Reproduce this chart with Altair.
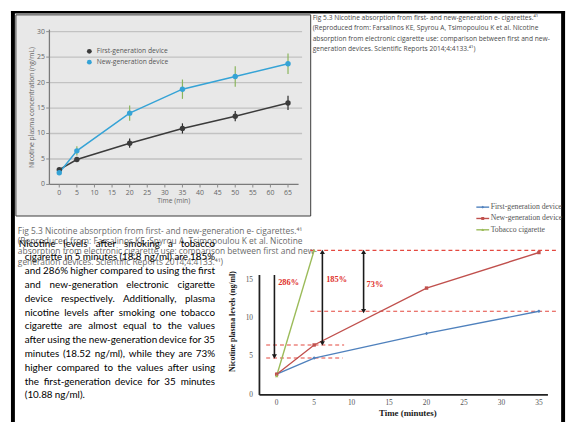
import altair as alt
import pandas as pd

# ---------------- data ----------------
top_series = ["First-generation device", "New-generation device"]
top_time = [0, 5, 20, 35, 50, 65]
top_first = [2.9, 4.9, 8.1, 11.0, 13.4, 16.0]
top_first_err = [0.3, 0.4, 0.9, 1.0, 1.0, 1.4]
top_new = [2.3, 6.6, 14.0, 18.7, 21.2, 23.7]
top_new_err = [0.4, 0.9, 1.5, 1.9, 2.0, 2.0]
top_x_ticks = [0, 5, 10, 15, 20, 25, 30, 35, 40, 45, 50, 55, 60, 65]
top_y_ticks = [0, 5, 10, 15, 20, 25, 30]

bot_series = ["First-generation device", "New-generation device", "Tobacco cigarette"]
bot_time = [0, 5, 20, 35]
bot_first = [2.7, 4.8, 8.0, 10.88]
bot_new = [2.7, 6.5, 13.9, 18.52]
tob_time = [0, 5]
tob_vals = [2.5, 18.8]
bot_x_ticks = [0, 5, 10, 15, 20, 25, 30, 35]
bot_y_ticks = [0, 5, 10, 15]

ref_level = [18.8, 10.88, 6.5, 4.8]
ref_start = [4.5, 4.5, -1.4, -1.4]
ref_end = [37.5, 37.5, 9.0, 8.8]

arrow_x = [-0.3, 6.1, 11.6]
arrow_top = [15.6, 18.6, 18.6]
arrow_bottom = [5.0, 6.7, 10.9]
arrow_two_heads = [False, True, True]

pct_text = ["286%", "185%", "73%"]
pct_x = [0.2, 6.6, 12.0]
pct_y = [14.7, 15.1, 14.4]

caption_lines = [
    "Fig 5.3 Nicotine absorption from first- and new-generation e- cigarettes.\u2074\u00b9",
    "(Reproduced from: Farsalinos KE, Spyrou A, Tsimopoulou K et al. Nicotine",
    "absorption from electronic cigarette use: comparison between first and new-",
    "generation devices. Scientific Reports 2014;4:4133.\u2074\u00b9)",
]

para_lines = [
    "Nicotine levels after smoking a tobacco",
    "cigarette in 5 minutes (18.8 ng/ml) are 185%",
    "and 286% higher compared to using the first",
    "and new-generation electronic cigarette",
    "device respectively. Additionally, plasma",
    "nicotine levels after smoking one tobacco",
    "cigarette are almost equal to the values",
    "after using the new-generation device for 35",
    "minutes (18.52 ng/ml), while they are 73%",
    "higher compared to the values after using",
    "the first-generation device for 35 minutes",
    "(10.88 ng/ml).",
]

# ---------------- layout helpers ----------------
OX, OY = 8, 8
W, H = 570, 417


def px(x):
    return x - OX


def py(y):
    return max(y - OY, 0)


one = pd.DataFrame({"k": [0]})
ident_x = alt.Scale(domain=[0, W], range=[0, W])


def rect(x0, x1, y0, y1, **kw):
    return alt.Chart(one).mark_rect(**kw).encode(
        x=alt.value(px(x0)), x2=alt.value(px(x1)),
        y=alt.value(py(y0)), y2=alt.value(py(y1)))


# ---------------- decorations ----------------
decor = alt.layer(
    rect(16, 315, 12, 216, fill="#e8e8e8", stroke="#3a3a3a", strokeWidth=1),
    rect(11, 573, 8, 10.5, color="#000000"),
    rect(11, 15, 8, 425, color="#000000"),
    rect(569, 573, 8, 425, color="#000000"),
)

# ---------------- top chart ----------------
n = len(top_time)
top_df = pd.DataFrame({
    "time": top_time + top_time,
    "value": top_first + top_new,
    "err": top_first_err + top_new_err,
    "series": [top_series[0]] * n + [top_series[1]] * n,
})
top_df["lo"] = top_df["value"] - top_df["err"]
top_df["hi"] = top_df["value"] + top_df["err"]

tx = alt.Scale(domain=[0, 65], range=[px(60), px(292)], nice=False, zero=False)
ty = alt.Scale(domain=[0, 30], range=[py(184), py(29)], nice=False, zero=False)
top_color = alt.Scale(domain=top_series, range=["#3b3b3b", "#35a3d6"])
err_color = alt.Scale(domain=top_series, range=["#2b2b2b", "#8ab55c"])
top_font = "Open Sans"
axis_grey = "#8a8a8a"
label_grey = "#666666"

top_grid = alt.Chart(pd.DataFrame({"g": top_y_ticks[1:]})).mark_rule(
    color="#c2c2c2", strokeWidth=1.3).encode(
    y=alt.Y("g:Q", scale=ty, axis=None),
    x=alt.XDatum(-2.8, scale=tx, axis=None), x2=alt.X2Datum(69))
top_xline = alt.Chart(one).mark_rule(color="#7a7a7a", strokeWidth=1.3).encode(
    x=alt.XDatum(-2.8, scale=tx, axis=None), x2=alt.X2Datum(68),
    y=alt.YDatum(0, scale=ty, axis=None))
top_yline = alt.Chart(one).mark_rule(color="#7a7a7a", strokeWidth=1.3).encode(
    x=alt.XDatum(-2.8, scale=tx, axis=None),
    y=alt.YDatum(0, scale=ty, axis=None), y2=alt.Y2Datum(30.4))

txt_df = pd.DataFrame({"v": top_x_ticks})
tyt_df = pd.DataFrame({"v": top_y_ticks})
top_xticks = alt.Chart(txt_df).mark_rule(color=axis_grey, strokeWidth=1).encode(
    x=alt.X("v:Q", scale=tx, axis=None),
    y=alt.YDatum(0, scale=ty, axis=None), y2=alt.Y2Datum(-0.6))
top_xlabels = alt.Chart(txt_df).mark_text(
    font=top_font, fontSize=7, color=label_grey, baseline="middle", dy=9).encode(
    x=alt.X("v:Q", scale=tx, axis=None),
    y=alt.YDatum(0, scale=ty, axis=None), text="v:Q")
top_yticks = alt.Chart(tyt_df).mark_rule(color=axis_grey, strokeWidth=1).encode(
    x=alt.XDatum(-2.8, scale=tx, axis=None), x2=alt.X2Datum(-3.7),
    y=alt.Y("v:Q", scale=ty, axis=None))
top_ylabels = alt.Chart(tyt_df).mark_text(
    font=top_font, fontSize=7, color=label_grey, baseline="middle",
    align="right", dx=-4.5).encode(
    x=alt.XDatum(-2.8, scale=tx, axis=None),
    y=alt.Y("v:Q", scale=ty, axis=None), text="v:Q")
top_xtitle = alt.Chart(one).mark_text(
    font=top_font, fontSize=6.8, color=label_grey, baseline="middle", dy=17).encode(
    x=alt.XDatum(32.5, scale=tx, axis=None),
    y=alt.YDatum(0, scale=ty, axis=None), text=alt.value("Time (min)"))
top_ytitle = alt.Chart(one).mark_text(
    font=top_font, fontSize=6.8, color=label_grey, baseline="middle",
    align="center", angle=270).encode(
    x=alt.value(px(32)), y=alt.value(py(106)),
    text=alt.value("Nicotine plasma concentration (ng/mL)"))

top_lines = alt.Chart(top_df).mark_line(strokeWidth=1.5).encode(
    x=alt.X("time:Q", scale=tx, axis=None),
    y=alt.Y("value:Q", scale=ty, axis=None),
    color=alt.Color("series:N", scale=top_color, legend=None))
top_err = alt.Chart(top_df).mark_rule(strokeWidth=1.2).encode(
    x=alt.X("time:Q", scale=tx, axis=None),
    y=alt.Y("lo:Q", scale=ty, axis=None), y2="hi:Q",
    stroke=alt.Stroke("series:N", scale=err_color, legend=None))
top_pts = alt.Chart(top_df).mark_circle(size=30, opacity=1).encode(
    x=alt.X("time:Q", scale=tx, axis=None),
    y=alt.Y("value:Q", scale=ty, axis=None),
    color=alt.Color("series:N", scale=top_color, legend=None))

top_chart = alt.layer(top_grid, top_xline, top_yline, top_xticks, top_xlabels,
                      top_yticks, top_ylabels, top_xtitle, top_lines, top_err,
                      top_pts)

leg_top_df = pd.DataFrame({"series": top_series, "row": [0, 1]})
lty = alt.Scale(domain=[0, 1], range=[py(49), py(60)])
top_legend = alt.layer(
    alt.Chart(leg_top_df).mark_circle(size=24, opacity=1).encode(
        x=alt.value(px(90.5)), y=alt.Y("row:Q", scale=lty, axis=None),
        color=alt.Color("series:N", scale=top_color, legend=None)),
    alt.Chart(leg_top_df).mark_text(
        align="left", baseline="middle", font=top_font, fontSize=6.8,
        color="#555555").encode(
        x=alt.value(px(98)), y=alt.Y("row:Q", scale=lty, axis=None),
        text="series:N"),
)

# ---------------- bottom chart ----------------
m = len(bot_time)
bot_df = pd.DataFrame({
    "time": bot_time + bot_time + tob_time,
    "value": bot_first + bot_new + tob_vals,
    "series": [bot_series[0]] * m + [bot_series[1]] * m + [bot_series[2]] * len(tob_time),
})
bx = alt.Scale(domain=[0, 35], range=[px(280.5), px(546.5)], nice=False, zero=False)
by = alt.Scale(domain=[0, 15], range=[py(397.5), py(280.5)], nice=False, zero=False)
bot_color = alt.Scale(domain=bot_series, range=["#4f81bd", "#c0504d", "#9bbb59"])
bot_shape = alt.Scale(domain=bot_series, range=["diamond", "square", "triangle-up"])
serif = "Liberation Serif"

ref_df = pd.DataFrame({"lvl": ref_level, "x0": ref_start, "x1": ref_end})
bot_ref = alt.Chart(ref_df).mark_rule(
    strokeDash=[4, 3], color="#e4483f", strokeWidth=1.1).encode(
    x=alt.X("x0:Q", scale=bx, axis=None), x2="x1:Q",
    y=alt.Y("lvl:Q", scale=by, axis=None))
bot_xline = alt.Chart(one).mark_rule(color="#222222", strokeWidth=1.8).encode(
    x=alt.XDatum(-2.3, scale=bx, axis=None), x2=alt.X2Datum(36.2),
    y=alt.YDatum(0, scale=by, axis=None))
bot_yline = alt.Chart(one).mark_rule(color="#222222", strokeWidth=1.8).encode(
    x=alt.XDatum(-2.3, scale=bx, axis=None),
    y=alt.YDatum(0, scale=by, axis=None), y2=alt.Y2Datum(15.6))
bxt_df = pd.DataFrame({"v": bot_x_ticks})
byt_df = pd.DataFrame({"v": bot_y_ticks})
bot_xlabels = alt.Chart(bxt_df).mark_text(
    font=serif, fontSize=7.5, color="#555555", baseline="middle", dy=8).encode(
    x=alt.X("v:Q", scale=bx, axis=None),
    y=alt.YDatum(0, scale=by, axis=None), text="v:Q")
bot_ylabels = alt.Chart(byt_df).mark_text(
    font=serif, fontSize=7.5, color="#555555", baseline="middle",
    align="right", dx=-6.5).encode(
    x=alt.XDatum(-2.3, scale=bx, axis=None),
    y=alt.Y("v:Q", scale=by, axis=None), text="v:Q")
bot_xtitle = alt.Chart(one).mark_text(
    font=serif, fontSize=9, fontWeight="bold", color="#1a1a1a",
    baseline="middle", dy=18.5).encode(
    x=alt.XDatum(17.5, scale=bx, axis=None),
    y=alt.YDatum(0, scale=by, axis=None), text=alt.value("Time (minutes)"))

bot_lines = alt.Chart(bot_df).mark_line(strokeWidth=1.4).encode(
    x=alt.X("time:Q", scale=bx, axis=None),
    y=alt.Y("value:Q", scale=by, axis=None),
    color=alt.Color("series:N", scale=bot_color, legend=None))
bot_pts = alt.Chart(bot_df).mark_point(filled=True, size=12, opacity=1).encode(
    x=alt.X("time:Q", scale=bx, axis=None),
    y=alt.Y("value:Q", scale=by, axis=None),
    color=alt.Color("series:N", scale=bot_color, legend=None),
    shape=alt.Shape("series:N", scale=bot_shape, legend=None))

arr_df = pd.DataFrame({"ax": arrow_x, "top": arrow_top, "bot": arrow_bottom})
heads = []
for ax, t, b, two in zip(arrow_x, arrow_top, arrow_bottom, arrow_two_heads):
    heads.append({"ax": ax, "hy": b, "shape": "triangle-down"})
    if two:
        heads.append({"ax": ax, "hy": t, "shape": "triangle-up"})
head_df = pd.DataFrame(heads)
bot_arrows = alt.Chart(arr_df).mark_rule(color="#1a1a1a", strokeWidth=1.6).encode(
    x=alt.X("ax:Q", scale=bx, axis=None),
    y=alt.Y("top:Q", scale=by, axis=None), y2="bot:Q")
bot_heads = alt.Chart(head_df).mark_point(
    filled=True, color="#1a1a1a", size=26, opacity=1).encode(
    x=alt.X("ax:Q", scale=bx, axis=None),
    y=alt.Y("hy:Q", scale=by, axis=None),
    shape=alt.Shape("shape:N", scale=None, legend=None))
pct_df = pd.DataFrame({"t": pct_text, "lx": pct_x, "ly": pct_y})
bot_pct = alt.Chart(pct_df).mark_text(
    font=serif, fontSize=8.5, fontWeight="bold", color="#e0302a",
    align="left", baseline="middle").encode(
    x=alt.X("lx:Q", scale=bx, axis=None),
    y=alt.Y("ly:Q", scale=by, axis=None), text="t:N")

bot_chart = alt.layer(bot_ref, bot_xline, bot_yline, bot_xlabels, bot_ylabels,
                      bot_xtitle, bot_lines, bot_pts, bot_arrows, bot_heads,
                      bot_pct)

bot_title = alt.Chart(one).mark_text(
    font=serif, fontSize=8, fontWeight="bold", color="#222222", angle=270,
    align="center", baseline="middle").encode(
    x=alt.value(px(236)), y=alt.value(py(323)),
    text=alt.value("Nicotine plasma levels (ng/ml)"))

leg_bot_df = pd.DataFrame({"series": bot_series, "row": [0, 1, 2]})
lby = alt.Scale(domain=[0, 2], range=[py(207), py(230)])
bot_legend = alt.layer(
    alt.Chart(leg_bot_df).mark_rule(strokeWidth=1.4).encode(
        x=alt.value(px(483)), x2=alt.value(px(496)),
        y=alt.Y("row:Q", scale=lby, axis=None),
        color=alt.Color("series:N", scale=bot_color, legend=None)),
    alt.Chart(leg_bot_df).mark_point(filled=True, size=9, opacity=1).encode(
        x=alt.value(px(489.5)), y=alt.Y("row:Q", scale=lby, axis=None),
        color=alt.Color("series:N", scale=bot_color, legend=None),
        shape=alt.Shape("series:N", scale=bot_shape, legend=None)),
    alt.Chart(leg_bot_df).mark_text(
        align="left", baseline="middle", font=serif, fontSize=7.8,
        color="#555555").encode(
        x=alt.value(px(497.5)), y=alt.Y("row:Q", scale=lby, axis=None),
        text="series:N"),
)

# ---------------- text blocks ----------------
cap_df = pd.DataFrame({"i": list(range(len(caption_lines))), "t": caption_lines})
cap_top = alt.Chart(cap_df).mark_text(
    align="left", baseline="middle", font="Open Sans", fontSize=6.75,
    color="#4a4a4a").encode(
    x=alt.value(px(317)),
    y=alt.Y("i:Q", scale=alt.Scale(domain=[0, 3], range=[py(15), py(47)]), axis=None),
    text="t:N")
cap_bot = alt.Chart(cap_df).mark_text(
    align="left", baseline="middle", font="Open Sans", fontSize=8.5,
    color="#6a6a6a").encode(
    x=alt.value(px(18)),
    y=alt.Y("i:Q", scale=alt.Scale(domain=[0, 3], range=[py(231), py(262.5)]), axis=None),
    text="t:N")

# justified paragraph: word positions from approximate Lato advance widths
PARA_SIZE = 10.0
LATO_W = {
    "a": 0.49, "b": 0.56, "c": 0.46, "d": 0.56, "e": 0.52, "f": 0.32,
    "g": 0.51, "h": 0.56, "i": 0.24, "j": 0.24, "k": 0.51, "l": 0.24,
    "m": 0.84, "n": 0.56, "o": 0.56, "p": 0.55, "q": 0.56, "r": 0.37,
    "s": 0.42, "t": 0.35, "u": 0.56, "v": 0.51, "w": 0.78, "x": 0.50,
    "y": 0.51, "z": 0.45, "A": 0.68, "N": 0.75, "(": 0.31, ")": 0.31,
    ".": 0.22, ",": 0.22, "/": 0.38, "%": 0.77, "-": 0.33, " ": 0.19,
}


def word_width(w):
    return sum(LATO_W.get(ch, 0.58) for ch in w) * PARA_SIZE


para_left = [19] + [25] * (len(para_lines) - 1)
para_right = 218
words = []
for i, line in enumerate(para_lines):
    ws = line.split(" ")
    widths = [word_width(w) for w in ws]
    last = i == len(para_lines) - 1
    if last or len(ws) == 1:
        gap = word_width(" ")
    else:
        gap = (para_right - para_left[i] - sum(widths)) / (len(ws) - 1)
    xpos = para_left[i]
    for j, (w, wd) in enumerate(zip(ws, widths)):
        is_end = (j == len(ws) - 1) and not last
        words.append({"i": i, "w": w,
                      "wx": px(para_right) if is_end else px(xpos),
                      "end": is_end})
        xpos += wd + gap
word_df = pd.DataFrame(words)
para_scale = alt.Scale(domain=[0, len(para_lines) - 1], range=[py(244), py(398)])
para_l = alt.Chart(word_df[~word_df["end"]]).mark_text(
    align="left", baseline="middle", font="Lato", fontSize=PARA_SIZE,
    color="#000000").encode(
    x=alt.X("wx:Q", scale=ident_x, axis=None),
    y=alt.Y("i:Q", scale=para_scale, axis=None), text="w:N")
para_r = alt.Chart(word_df[word_df["end"]]).mark_text(
    align="right", baseline="middle", font="Lato", fontSize=PARA_SIZE,
    color="#000000").encode(
    x=alt.X("wx:Q", scale=ident_x, axis=None),
    y=alt.Y("i:Q", scale=para_scale, axis=None), text="w:N")
para = alt.layer(para_l, para_r)

chart = alt.layer(
    decor, top_chart, top_ytitle, top_legend, cap_top, cap_bot, bot_chart,
    bot_title, bot_legend, para,
).resolve_scale(
    x="independent", y="independent", color="independent",
    stroke="independent", shape="independent",
).properties(
    width=W, height=H, padding=0, autosize=alt.AutoSizeParams(type="none"),
    background="#ffffff",
).configure_view(stroke=None)

chart.save("out.html", embed_options={"renderer": "svg", "actions": False})
